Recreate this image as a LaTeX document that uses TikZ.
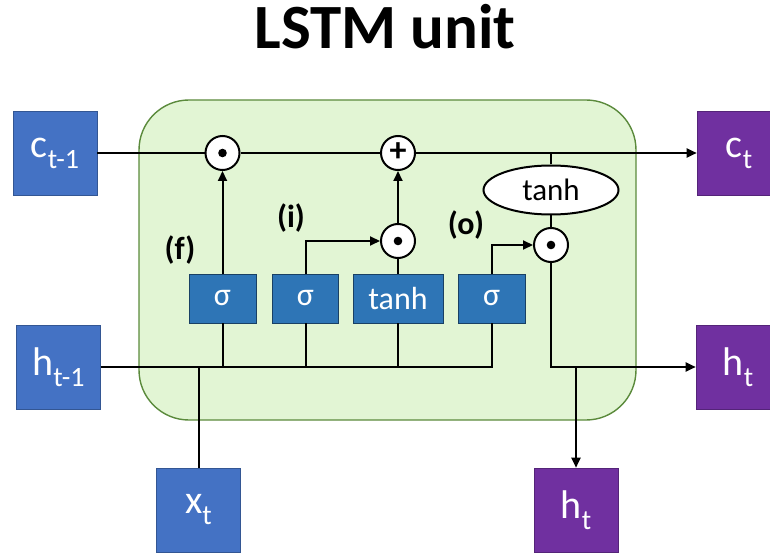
\documentclass[tikz,border=0pt]{standalone}
\usepackage{fontspec}
\setmainfont{Carlito}
\usetikzlibrary{arrows.meta,shapes.geometric}
\definecolor{inblue}{HTML}{4472C4}
\definecolor{outpurple}{HTML}{7030A0}
\definecolor{gateblue}{HTML}{2E75B6}
\definecolor{cellgreen}{HTML}{E2F5D4}
\definecolor{celledge}{HTML}{5B8A3C}
\newcommand{\lowsub}[1]{\raisebox{-11pt}{\fontsize{28}{28}\selectfont #1}}
\begin{document}
\begin{tikzpicture}[x=1pt,y=1pt,
		port/.style={minimum size=84pt, inner sep=0pt, text=white, draw=#1!75!black, fill=#1, line width=0.6pt, font=\fontsize{40}{40}\selectfont},
		gatebox/.style={minimum height=49pt, minimum width=#1, inner sep=0pt, text=white, draw=gateblue!55!black, fill=gateblue, line width=0.8pt, font=\fontsize{32}{32}\selectfont},
		op/.style={circle, minimum size=34pt, inner sep=0pt, draw, fill=white, line width=2pt},
		wire/.style={line width=2pt},
		arr/.style={-{Triangle[length=10pt,width=9pt]}},
		gatelabel/.style={font=\bfseries\fontsize{32}{32}\selectfont}]
		\useasboundingbox (0,0) rectangle (770,552);
		\node[font=\bfseries\fontsize{63}{63}\selectfont, anchor=base](title) at (385,503){LSTM unit};
		\draw[fill=cellgreen, draw=celledge, line width=1.4pt, rounded corners=50pt](139,132) rectangle (636,452);
		\node[port=inblue](cprev) at (55,399){c\lowsub{t-1}};
		\node[port=outpurple](ct) at (739,399){c\lowsub{t}};
		\node[port=inblue](hprev) at (58.5,185){h\lowsub{t-1}};
		\node[port=outpurple](ht) at (738,185){h\lowsub{t}};
		\node[port=inblue](xt) at (198.5,42){x\lowsub{t}};
		\node[port=outpurple](hnext) at (576,42){h\lowsub{t}};
		\node[gatebox=67pt](sf) at (222.5,253.5){σ};
		\node[gatebox=66pt](si) at (305.5,253.5){σ};
		\node[gatebox=90pt](gg) at (398,253.5){tanh};
		\node[gatebox=67pt](so) at (491.5,253.5){σ};
		\node[op](mulf) at (222.5,399){};
		\node[op, font=\bfseries\fontsize{34}{34}\selectfont](add) at (398,399){\raisebox{1pt}{+}};
		\node[op](muli) at (398,311){};
		\node[op](mulo) at (551,307){};
		\foreach \m in {mulf,muli,mulo}
		\fill(\m) circle (4.3pt);
		\node[ellipse, draw, fill=white, line width=2pt, minimum width=135pt, minimum height=49pt, inner sep=0pt, font=\fontsize{31}{31}\selectfont](ctanh) at (551,362){tanh};
		\node[gatelabel](lf) at (180,302){(f)};
		\node[gatelabel](li) at (291,334){(i)};
		\node[gatelabel](lo) at (466,327){(o)};
		% cell state
		\draw[wire](cprev)--(mulf);
		\draw[wire](mulf)--(add);
		\draw[wire,arr](add)--(ct);
		\draw[wire](ctanh.north)--(ctanh.north |- ct);
		% hidden state and input into the gates
		\draw[wire](hprev)--(so.south |- hprev)--(so.south);
		\draw[wire](xt)--(xt |- hprev);
		\foreach \g in {sf,si,gg}
		\draw[wire](\g.south)--(\g.south |- hprev);
		% gates
		\draw[wire,arr](sf)--(mulf);
		\draw[wire,arr](si.north)|-(muli);
		\draw[wire](gg)--(muli);
		\draw[wire,arr](muli)--(add);
		\draw[wire,arr](so.north)|-(mulo);
		\draw[wire](ctanh)--(mulo);
		% output
		\draw[wire,arr](mulo)|-(ht);
		\draw[wire,arr](hnext |- ht)--(hnext);
	\end{tikzpicture}
\end{document}
